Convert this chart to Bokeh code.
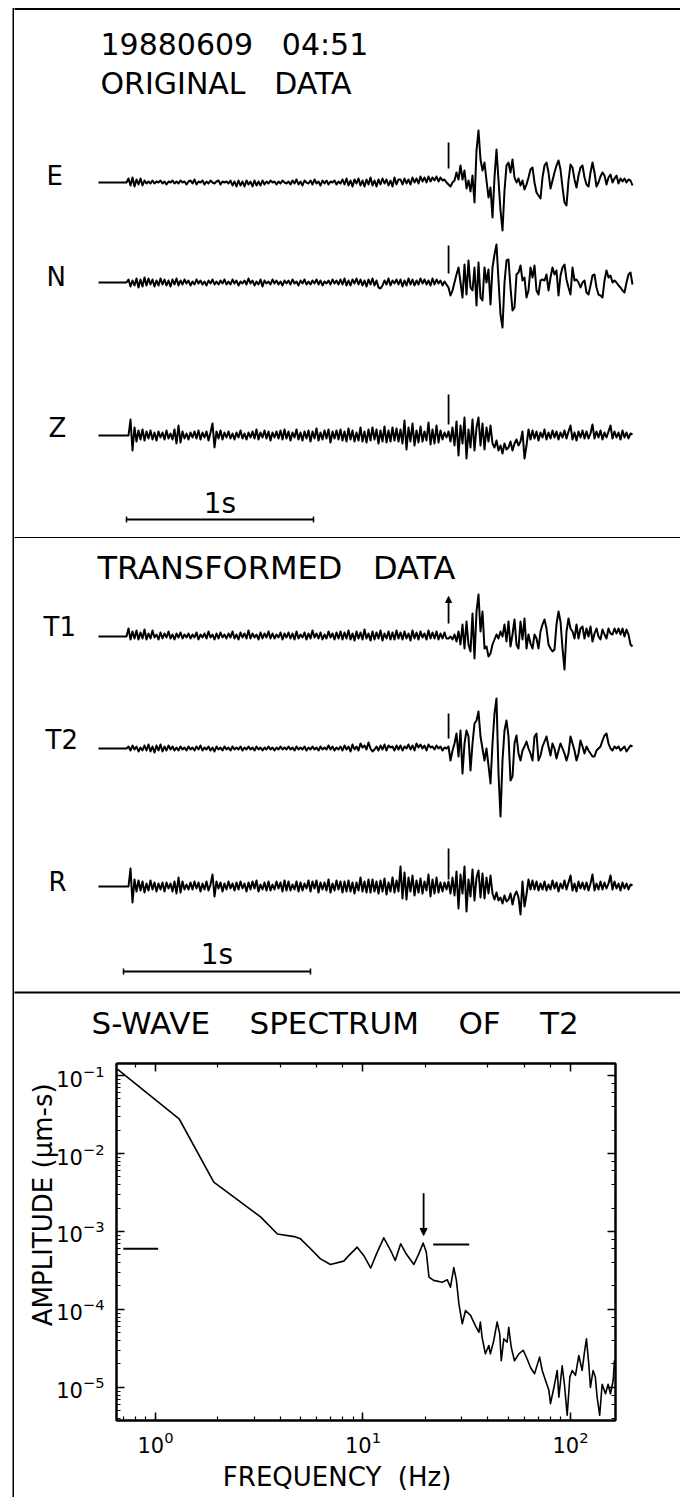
import numpy as np
from bokeh.plotting import figure
from bokeh.layouts import column, row
from bokeh.models import (Range1d, BoxAnnotation, Arrow, NormalHead, LogAxis,
                          LogTicker, CustomJSTickFormatter)
from bokeh.embed import file_html
from bokeh.resources import INLINE
from bokeh.core.properties import value

FONT = "DejaVu Sans"
NB = "\u00a0"

# ---------------------------------------------------------------- data
SAMPLES_PER_S = 93.5          # trace sampling used for the digitised records
S_ARRIVAL = 1.872             # s, S-wave pick (vertical marks)

TITLE_1 = "19880609" + NB * 3 + "04:51"
SUBTITLE_1 = "ORIGINAL" + NB * 3 + "DATA"
SUBTITLE_2 = "TRANSFORMED" + NB * 3 + "DATA"
TITLE_3 = "S-WAVE" + NB * 4 + "SPECTRUM" + NB * 4 + "OF" + NB * 4 + "T2"
X_LABEL = "FREQUENCY" + NB * 2 + "(Hz)"
Y_LABEL = "AMPLITUDE (\u03bcm-s)"

CHANNELS_1 = ["E", "N", "Z"]
CHANNELS_2 = ["T1", "T2", "R"]

E = [0, 0, 0, 0, 0, 0, 0, 0, 0, 0, 0, 0, 0, 0, 0,
     4, -3, 5, -4, 3, -2, 4, -3, 2, -1,
     1, -1, 2, -1, 1, 0, 2, -1, 1, -2, 1, 0, 2, -1, 1, -1, 2, 0, 1, -2,
     1, 2, -1, 3, -2, 1, 0, 2, -2, 1, -1, 2, 0, -1, 1, 2, -2, 1, 0, 1,
     -1, 2, -3, 1, -4, 2, -3, 1, -4, 2, -2, 1, -4, 2, -3, 1, -3, 2, -2, 1,
     -1, 2, 0, 1, -2, 1, -1, 2, 0, -1,
     1, -2, 2, -1, 3, -2, 1, -3, 2, 0, -1, 2, -2, 3, -1, 1, -3, 2, -1, 2,
     -2, 1, 0, 2, -2, 1,
     -1, 3, -2, 4, -3, 2, -4, 3, -1, 4, -3, 2, -4, 3, -2, 5, -3, 2, -4, 3,
     -2, 4, -1, 3, -3, 2, -4, 5, -2, 3,
     3, -2, 4, -1, 3, -2, 5, 0, 4, -1, 6, 1, 5, 0, 6, 1, 5, 2, 6, 1, 5, 2, 3, 0,
     -2, -4, 0, 2, 10, 3, 17, 3, 12, -6, 2, -9, 7, -20, 32, 52, 23, 12, 20, 2,
     -15, -5, -35, 5, 33, 2, -28, -48, -8, 17, 20, 10, 23, 5, 0, 4, -3, 2, -7, -2,
     5, 13, 15, 0, -10, -13, -16, 5, 17, 20, 10, -6, 2, 10, 17, 22, 13, -5, -20, -23,
     2, 18, 15, 3, -5, 7, 15, 17, 5, -2, -4, 10, 20, 10, -4, 0, 6, 10, 7, -2,
     5, 8, 0, 4, 7, -1, 4, 1, 4, 0, 3, 2, -3]

N = [0, 0, 0, 0, 0, 0, 0, 0, 0, 0, 0, 0, 0, 0, 0,
     3, -4, 2, -3, 4, -5, 3, -4, 5, -3,
     4, -2, 3, -4, 2, -3, 4, -2, 3, -3, 2, -4, 3, -2, 4, -3, 2, -2, 3, -1,
     2, -3, 1, -2, 3, -1, 2, -2, 1, -3, 2, -1, 3, -2, 1, -2, 2, -1, 3, -2,
     1, -2, 3, -1, 2, -3, 1, -1, 2, -2, 4, -1, 2, -3, 1, -2, 3, -4, 2, -1,
     1, -2, 3, -1, 2, -2, 1, -3, 2, -1,
     2, -2, 3, -1, 1, -3, 2, -1, 3, -2, 1, -2, 2, -1, 3, -2, 2, -3, 1, -1,
     2, -2, 3, -1, 2, -2,
     3, -2, 4, -3, 2, -3, 3, -1, 4, -2, 3, -3, 2, -4, 3, -2, 4, -3, 2, -5,
     -6, -3, 2, -2, 4, -3, 2, -1, 3, -2,
     3, -4, 2, -3, 4, -2, 3, -3, 2, -2, 4, -1, 3, -2, 2, -3, 4, -2, 3, -1, 2, -3, 1, -2,
     -5, -13, -8, 0, 8, 15, 0, -15, 18, -12, 22, -5, -8, 15, -23, 20, -15, -18, 15, 0,
     13, -22, 15, 28, 38, 2, -32, -45, 0, 22, 23, -5, -28, -25, 8, 10, 17, 2, 5, -15,
     -8, 15, 5, 17, -8, -12, 2, 3, 2, 8, -8, 5, 15, 8, 12, -13, 7, 15, 18, 3,
     -5, -12, 15, 2, 3, 0, -5, 0, 2, -10, -12, -3, 7, 8, -5, -12, -13, -15, 2, 12,
     5, 7, 0, 2, 0, -3, -5, -8, -10, 0, 8, 10, -2]

Z = [0, 0, 0, 0, 0, 0, 0, 0, 0, 0, 0, 0, 0, 0, 0,
     0, 16, -15, 8, -6, 5, -4, 6, -5, 4,
     -3, 5, -4, 3, -5, 4, -2, 3, -4, 5, -3, 2, -4, 6, -8, 10, -7, 4, -3, 2,
     -4, 3, -2, 4, -3, 5, -4, 3, -2, 4, -5, 3, 12, -12, 4, -3, 5, -4, 3, -2,
     4, -3, 2, -4, 3, -2, 5, -3, 2, -4, 3, -2, 4, -3, 6, -4, 3, -2, 5, -3,
     4, -5, 3, -2, 4, -3, 5, -4, 6, -3,
     4, -5, 3, -2, 6, -4, 3, -5, 4, -3, 5, -6, 4, -3, 7, -5, 3, -4, 5, -3,
     6, -7, 4, -3, 5, -4,
     6, -5, 4, -6, 7, -4, 5, -6, 3, -5, 8, -6, 4, -7, 6, -5, 8, -4, 6, -8,
     5, -6, 9, -7, 5, -6, 8, -5, 7, -6,
     6, -8, 15, -14, 8, -6, 12, -10, 5, -7, 9, -6, 4, -5, 13, -9, 6, -8, 10, -7, 5, -4, 3, -2,
     4, -6, 8, -10, 14, -20, 10, -8, 18, -23, 6, -12, 16, -15, 8,
     18, -10, 12, -14, 8, -6, 10,
     -8, -12, -5, -15, -10, -18, -8, -14, -12, -6, -15, -8, -4, -10, -6,
     4, -23, -10, 6, -4,
     5, -3, 4, -5, 3, -2, 6, -4, 3, -3, 5, -2, 4, -4, 3, -2, 5, -3, 4,
     10, -4, 3, -5, 4, -2, 5, -3, 4, -3, 2,
     11, -3, 4, -2, 5, -4, 3, -2, 4,
     10, -3, 4, -2, 3, -4, 5, -2, 3, -3, 2, 1]

T1 = [0, 0, 0, 0, 0, 0, 0, 0, 0, 0, 0, 0, 0, 0, 0,
      8, -3, 5, -2, 6, -3, 4, -2, 7, -3,
      3, -2, 6, -1, 2, -3, 4, -2, 3, -1, 5, -2, 2, -3, 3, -1, 4, -2, 2, -1,
      3, -2, 2, -1, 4, -3, 2, -1, 3, -2, 5, -1, 2, -3, 3, -2, 4, -1, 2, -2,
      3, -1, 5, -2, 2, -3, 4, -1, 3, -2, 6, -2, 3, -1, 2, -3, 4, -2, 3, -1,
      5, -2, 3, -2, 2, -1, 4, -3, 3, -1,
      4, -2, 3, -3, 5, -2, 2, -1, 4, -3, 3, -2, 6, -1, 3, -2, 4, -3, 2, -2,
      5, -1, 3, -3, 4, -2,
      5, -3, 4, -2, 6, -3, 3, -4, 5, -2, 4, -3, 7, -2, 3, -4, 5, -3, 4, -2,
      6, -4, 3, -2, 5, -3, 4, -3, 6, -2,
      4, -3, 5, -2, 3, -4, 6, -2, 4, -3, 5, -1, 3, -3, 6, -2, 4, -2, 5, -3, 3, -2, 4, -2,
      -2, 0, -3, 2, -5, 5, -8, 12, -12, 15, -8, -15, 23, -22, 25, 42, 5, 25, -12, -10,
      -20, -17, -8, -3, 2, -2, 5, 0, 12, -5, 15, -10, 2, 17, -8, -12, 15, -3, 18, -12,
      2, -7, -12, 2, -2, -12, 5, 12, 17, 8, -8, -12, -15, -13, 12, 25, 15, -12, -33, 5,
      18, 8, 5, -2, 12, -2, 8, 10, -2, 8, 0, 10, -5, 3, 8, 0, -3, 7, 2, -2,
      8, 3, 2, 8, 3, 8, 2, 8, 0, 7, 2, -8, -10]

T2 = [0, 0, 0, 0, 0, 0, 0, 0, 0, 0, 0, 0, 0, 0, 0,
      2, -2, 3, -1, 2, -3, 1, -2, 3, -2,
      4, -3, 2, -4, 3, -2, 4, -3, 2, -2, 3, -1, 2, -2, 1, -2, 2, -1, 1, -2,
      2, -1, 1, -2, 2, -1, 3, -2, 1, -1, 2, -2, 1, -3, 2, -1, 1, -2, 2, -1,
      1, -2, 2, -1, 1, -1, 2, -2, 1, -1, 2, -1, 1, -2, 2, -1, 1, -2, 1, -1,
      2, -1, 1, -2, 1, -1, 2, -1, 1, -1,
      2, -1, 1, -2, 2, -1, 1, -1, 2, -2, 1, -1, 2, -1, 1, -2, 2, -1, 1, -1,
      3, -1, 2, -2, 1, -1,
      2, -2, 3, -1, 2, -3, 4, -1, 2, -2, 5, 1, 3, -1, 6, 0, -3, -1, 2, -2,
      3, -1, 4, -2, 3, 1, 2, -2, 3, -1,
      3, -2, 2, 0, 4, -1, 3, -2, 5, 1, 4, 0, 3, -2, 4, 1, 2, -1, 3, 0, 2, -2, 1, 0,
      2, -12, -2, 5, 15, -8, 18, -25, 5, 18, 12, -22, 5, 25, 28, 37, 12, 0, -12, 0,
      -17, -35, 5, 35, 50, -25, -68, -12, 18, 28, 12, -32, -28, 5, 13, -5, -12, -2, 2, 7,
      0, -5, -12, 12, 15, -12, -7, 2, 7, 12, 2, -7, 5, 0, -10, -2, 5, 0, -5, -12,
      -5, 12, 5, -2, -12, -5, 8, 2, -5, 2, -2, -5, -8, -8, -2, 0, 2, 8, 13, 15,
      5, 0, -2, 2, 0, 2, -2, 0, 2, -3, 0, 3, 2]

R = [0, 0, 0, 0, 0, 0, 0, 0, 0, 0, 0, 0, 0, 0, 0,
     0, 18, -16, 7, -5, 6, -4, 5, -6, 3,
     -4, 6, -3, 4, -5, 3, -3, 4, -5, 4, -2, 3, -5, 5, -7, 9, -6, 5, -3, 2,
     -3, 4, -3, 5, -2, 4, -5, 3, -3, 5, -4, 2, 12, -10, 5, -2, 4, -5, 3, -3,
     5, -2, 3, -4, 4, -3, 5, -2, 3, -5, 4, -3, 5, -2, 6, -5, 2, -3, 4, -4,
     5, -4, 2, -3, 5, -2, 4, -5, 6, -4,
     5, -4, 2, -3, 5, -5, 4, -4, 3, -2, 6, -5, 5, -2, 6, -6, 4, -3, 4, -4,
     7, -6, 3, -4, 6, -3,
     5, -6, 5, -5, 6, -5, 4, -7, 4, -4, 9, -5, 5, -6, 7, -6, 7, -5, 5, -7,
     6, -5, 8, -8, 4, -5, 9, -6, 6, -5,
     20, -12, 14, -13, 9, -5, 11, -9, 6, -6, 8, -7, 5, -4, 12, -10, 7, -7, 9, -6, 4, -5, 4, -3,
     5, -7, 9, -9, 15, -22, 12, -7, 20, -25, 7, -10, 17, -14, 9,
     16, -11, 13, -12, 9, -7, 11,
     -7, -13, -6, -14, -11, -17, -9, -15, -13, -7, -18, -9, -5, -11, -28,
     5, -20, -8, 7, -3,
     6, -3, 5, -4, 3, -3, 5, -4, 2, -3, 6, -2, 4, -5, 3, -2, 6, -3, 4,
     11, -4, 3, -5, 5, -2, 4, -3, 4, -4, 3,
     12, -4, 3, -3, 5, -3, 4, -2, 3,
     11, -3, 5, -2, 3, -4, 4, -2, 3, -3, 2, 1]

# S-pick mark extent above each trace (amplitude units)
PICK_1 = [(14, 40), (9, 37), (11, 41)]
PICK_2 = [(13, 40), (10, 35), (7, 38)]

# S-wave spectrum of T2
FREQ_HZ = [0.653, 1.30, 1.91, 2.39, 3.22, 3.87, 4.66, 5.0, 5.59, 6.24, 6.97, 8.08,
           8.54, 9.38, 10.1, 10.9, 11.7, 12.6, 13.6, 14.3, 15.2, 16.2, 17.6, 18.6,
           19.5, 20.2, 20.8, 21.9, 24.1, 25.5, 26.4, 27.4, 28.2, 29.0, 30.1, 31.2,
           33.0, 34.8, 36.2, 36.8, 37.5, 38.9, 40.4, 41.1, 42.7, 44.3, 45.6, 46.4,
           47.7, 49.5, 50.4, 51.8, 53.7, 56.4, 59.2, 61.9, 64.2, 67.1, 71.0, 73.1,
           75.8, 78.7, 80.1, 83.2, 86.3, 87.9, 91.2, 93.5, 96.4, 99.3, 101.9, 105.7,
           109.7, 113.8, 116.8, 119.4, 122.5, 124.8, 128.5, 131.8, 134.4, 138.3,
           142.1, 147.5, 151.8, 155.9, 160.6, 162.9, 164.5]
AMP_UMS = [0.122, 0.0279, 4.3e-3, 2.75e-3, 1.53e-3, 9.3e-4, 8.6e-4, 8.05e-4, 6.0e-4,
           4.46e-4, 3.78e-4, 4.17e-4, 4.9e-4, 6.3e-4, 4.9e-4, 3.4e-4, 5.4e-4, 8.3e-4,
           5.7e-4, 4.25e-4, 6.95e-4, 5.1e-4, 3.78e-4, 5.2e-4, 7.1e-4, 5.4e-4, 2.6e-4,
           2.36e-4, 2.24e-4, 2.4e-4, 1.93e-4, 3.45e-4, 2.36e-4, 1.18e-4, 6.56e-5,
           9.7e-5, 8.4e-5, 6.2e-5, 5.1e-5, 6.9e-5, 4.4e-5, 2.7e-5, 3.45e-5, 2.7e-5,
           4.0e-5, 6.9e-5, 4.9e-5, 2.2e-5, 4.2e-5, 3.8e-5, 5.9e-5, 3.3e-5, 2.2e-5,
           2.7e-5, 3.0e-5, 2.3e-5, 1.8e-5, 1.5e-5, 2.45e-5, 1.65e-5, 1.23e-5, 9.2e-6,
           6.2e-6, 1.0e-5, 1.65e-5, 7.5e-6, 1.9e-5, 1.1e-5, 4.4e-6, 1.35e-5, 1.65e-5,
           1.43e-5, 2.57e-5, 1.65e-5, 2.84e-5, 4.2e-5, 2.0e-5, 1.0e-5, 1.65e-5,
           1.35e-5, 7.5e-6, 4.4e-6, 1.1e-5, 8.3e-6, 1.1e-5, 8.3e-6, 1.23e-5, 2.2e-5,
           1.7e-5]
NOISE_LEVEL = [6.0e-4, 6.8e-4]          # horizontal reference bars
NOISE_F0 = [0.70, 21.8]
NOISE_F1 = [1.03, 32.5]
CORNER_F = 19.6                          # arrow
ARROW_A = (3.1e-3, 8.9e-4)

# ---------------------------------------------------------------- layout
PAGE_W, PAGE_H = 680, 1497
STRIP = 14           # left strip that carries the outer frame line
W = PAGE_W - STRIP
X_ORIGIN = 98.0      # page px of t = 0
PX_PER_S = 187.0
P3_TOP = 1040


def tx(px):
    return (px - X_ORIGIN) / PX_PER_S


def hbar(p, y0, y1):
    p.add_layout(BoxAnnotation(left=tx(STRIP - 2), right=tx(PAGE_W + 5), bottom=y0, top=y1,
                               fill_color="black", fill_alpha=1.0, line_color=None))


def trace_panel(top, height, texts, names, traces, bases, label_xy, picks, arrow_idx,
                bar, lines):
    bottom = top + height

    def ty(py):
        return bottom - py

    p = figure(width=W, height=height, x_range=Range1d(tx(STRIP), tx(PAGE_W)),
               y_range=Range1d(0, height), min_border=0, toolbar_location=None,
               output_backend="svg", x_axis_location=None, y_axis_location=None)
    p.frame_align = False
    p.xgrid.visible = False
    p.ygrid.visible = False
    p.outline_line_color = None
    for yl in lines:
        hbar(p, ty(yl + 1), ty(yl - 1))

    for (txt, x, y, fs) in texts:
        p.text(x=[tx(x)], y=[ty(y)], text=[txt], text_font=value(FONT),
               text_font_size=fs, text_baseline="middle", text_align="left",
               text_color="black")

    for k, (name, vals, base) in enumerate(zip(names, traces, bases)):
        t = np.arange(len(vals)) / SAMPLES_PER_S
        p.line(t, ty(base) + np.asarray(vals, dtype=float), line_color="black",
               line_width=2.0, line_join="round")
        lx, ly = label_xy[k]
        p.text(x=[tx(lx)], y=[ty(ly)], text=[name], text_font=value(FONT),
               text_font_size="26px", text_baseline="middle", text_align="left",
               text_color="black")
        lo, hi = picks[k]
        if k == arrow_idx:
            p.add_layout(Arrow(x_start=S_ARRIVAL, y_start=ty(base) + lo,
                               x_end=S_ARRIVAL, y_end=ty(base) + hi,
                               line_width=1.8, line_color="black",
                               end=NormalHead(size=6, fill_color="black",
                                              line_color="black")))
        else:
            p.segment(x0=[S_ARRIVAL], y0=[ty(base) + lo], x1=[S_ARRIVAL],
                      y1=[ty(base) + hi], line_color="black", line_width=1.8)

    t0, ybar, ytext = bar
    p.segment(x0=[t0], y0=[ty(ybar)], x1=[t0 + 1.0], y1=[ty(ybar)],
              line_color="black", line_width=2)
    p.segment(x0=[t0, t0 + 1.0], y0=[ty(ybar) - 3] * 2, x1=[t0, t0 + 1.0],
              y1=[ty(ybar) + 3] * 2, line_color="black", line_width=1.5)
    p.text(x=[t0 + 0.5], y=[ty(ytext)], text=["1s"], text_font=value(FONT),
           text_font_size="28px", text_baseline="middle", text_align="center",
           text_color="black")
    return p


p1 = trace_panel(0, 538,
                 [(TITLE_1, 100, 44, "30px"), (SUBTITLE_1, 100, 83, "30px")],
                 CHANNELS_1, [E, N, Z], [182, 282, 435],
                 [(46, 175), (46, 276), (48, 427)], PICK_1, None,
                 (tx(126), 519, 503), lines=[8.5, 537.5])

p2 = trace_panel(538, P3_TOP - 538,
                 [(SUBTITLE_2, 97, 567, "32px"), (TITLE_3, 91, 1022, "31px")],
                 CHANNELS_2, [T1, T2, R], [636, 748, 886],
                 [(43, 626), (45, 739), (48, 881)], PICK_2, 0,
                 (tx(123), 971, 954), lines=[992])

# ---------------------------------------------------------------- spectrum
p3 = figure(width=W, height=PAGE_H - P3_TOP, x_axis_type="log", y_axis_type="log",
            x_range=Range1d(0.649, 164.8), y_range=Range1d(3.77e-6, 0.1426),
            min_border_left=116 - STRIP, min_border_right=PAGE_W - 615,
            min_border_top=1063 - P3_TOP, min_border_bottom=PAGE_H - 1420,
            toolbar_location=None, output_backend="svg")
p3.frame_align = False
p3.xgrid.visible = False
p3.ygrid.visible = False
p3.outline_line_color = "black"
p3.outline_line_width = 2

bottom_ax = p3.below[0]
left_ax = p3.left[0]
top_ax = LogAxis(ticker=LogTicker(), formatter=CustomJSTickFormatter(code="return ''"))
right_ax = LogAxis(ticker=LogTicker(), formatter=CustomJSTickFormatter(code="return ''"))
p3.add_layout(top_ax, "above")
p3.add_layout(right_ax, "right")

for ax in [bottom_ax, left_ax, top_ax, right_ax]:
    ax.axis_line_width = 2
    ax.axis_line_color = "black"
    ax.major_tick_in = 8
    ax.major_tick_out = 0
    ax.minor_tick_in = 4
    ax.minor_tick_out = 0
    ax.major_tick_line_width = 1.5
    ax.minor_tick_line_width = 1.2
    ax.major_label_text_font = FONT
    ax.major_label_text_font_size = "21px"
    ax.major_label_text_color = "black"
    ax.axis_label_text_font = FONT
    ax.axis_label_text_font_size = "26px"
    ax.axis_label_text_font_style = "normal"
    ax.axis_label_text_color = "black"
for ax in [top_ax, right_ax]:
    ax.major_label_text_font_size = "0px"
    ax.major_label_standoff = 0
bottom_ax.major_label_standoff = 10
left_ax.major_label_standoff = 12
bottom_ax.axis_label = X_LABEL + NB * 7
bottom_ax.axis_label_standoff = 6
left_ax.axis_label = NB * 9 + Y_LABEL
left_ax.axis_label_standoff = -5

p3.line(FREQ_HZ, AMP_UMS, line_color="black", line_width=1.6, line_join="round")
p3.segment(x0=NOISE_F0, y0=NOISE_LEVEL, x1=NOISE_F1, y1=NOISE_LEVEL,
           line_color="black", line_width=2)
p3.add_layout(Arrow(x_start=CORNER_F, y_start=ARROW_A[0], x_end=CORNER_F,
                    y_end=ARROW_A[1], line_width=1.8, line_color="black",
                    end=NormalHead(size=7, fill_color="black", line_color="black")))

# outer frame line on the left of all three panels
strip = figure(width=STRIP, height=PAGE_H, x_range=Range1d(0, STRIP),
               y_range=Range1d(0, PAGE_H), min_border=0, toolbar_location=None,
               output_backend="svg", x_axis_location=None, y_axis_location=None)
strip.frame_align = False
strip.xgrid.visible = False
strip.ygrid.visible = False
strip.outline_line_color = None
strip.add_layout(BoxAnnotation(left=STRIP - 2, right=STRIP, bottom=0, top=PAGE_H - 7.5,
                               fill_color="black", fill_alpha=1.0, line_color=None))

layout = row(strip, column(p1, p2, p3, spacing=0), spacing=0)
open("out.html", "w").write(file_html(layout, INLINE))
